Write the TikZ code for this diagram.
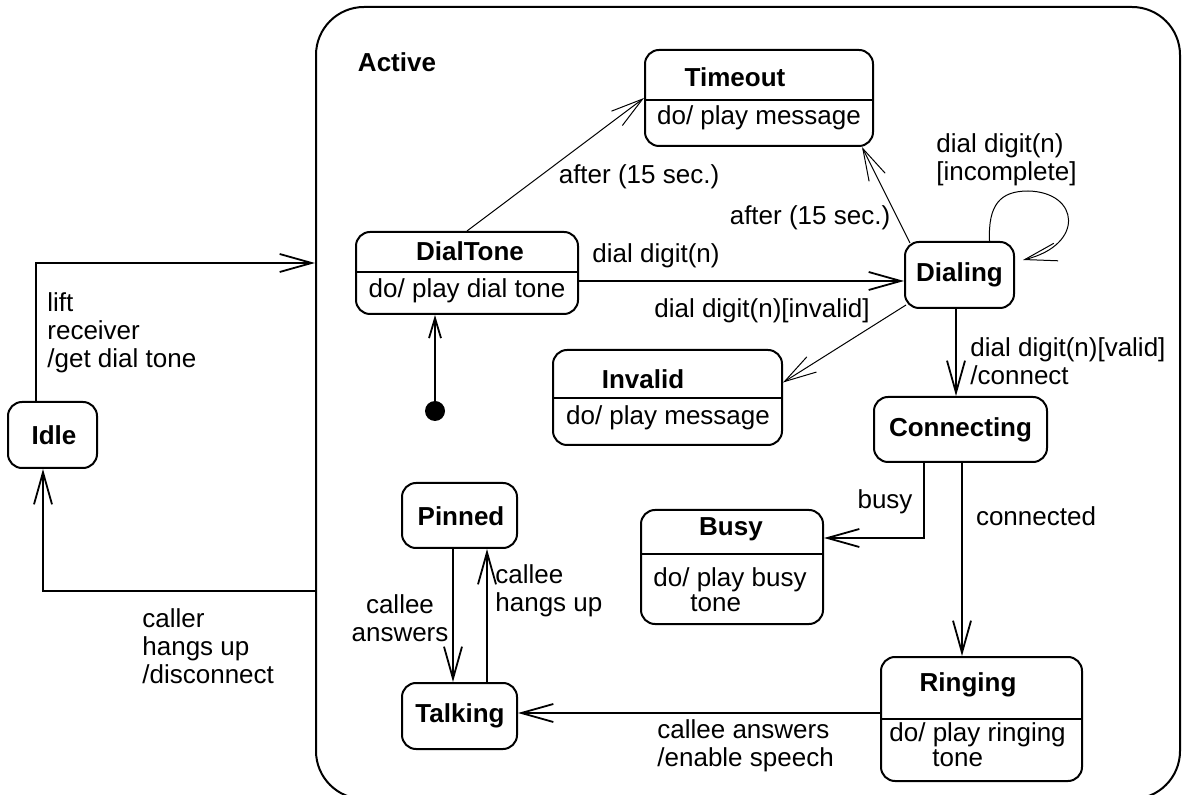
\documentclass[tikz,border=0pt]{standalone}
\usepackage{fontspec}
\setmainfont{Liberation Sans}
\usetikzlibrary{arrows.meta,calc}
\tikzset{tr/.style={line width=0.9pt, -{Straight Barb[length=16pt,width=9pt]}},
  thintr/.style={line width=0.5pt, -{Straight Barb[length=16pt,width=9pt]}},
  state/.style={draw, line width=1pt, rounded corners=7pt, inner sep=0pt},
  ttl/.style={font=\fontsize{13}{14}\selectfont\bfseries, inner sep=0pt},
  body/.style={align=left, inner sep=0pt, font=\fontsize{13}{12.5}\selectfont},
  lbl/.style={align=left, inner sep=0pt}}

\begin{document}
\begin{tikzpicture}[x=0.5pt, y=-0.5pt, font=\fontsize{13}{14}\selectfont]
  \useasboundingbox (0,0) rectangle (1182,795);
  \clip (0,0) rectangle (1182,795);
  % superstate
  \node[state, rounded corners=24pt, minimum width=432pt, minimum height=396pt] (active) at (748,403) {};
  \node[ttl] (activeT) at (397,62) {Active};
  \node[state, minimum width=44.5pt, minimum height=33pt] (idle) at (52.5,435) {};
  \node[ttl] (idleT) at (54,435) {Idle};
  % states with activity
  \node[state, minimum width=114pt, minimum height=48pt] (tmo) at (759,98) {};
  \draw[line width=1pt] (tmo.west |- 0,100) -- (tmo.east |- 0,100);
  \node[ttl] (tmoT) at (735,77) {Timeout};
  \node[body] (tmoB) at (759,118) {do/ play message};
  \node[state, minimum width=111pt, minimum height=41pt] (dt) at (467,273) {};
  \draw[line width=1pt] (dt.west |- 0,272) -- (dt.east |- 0,272);
  \node[ttl] (dtT) at (470,251) {DialTone};
  \node[body] (dtB) at (467,291) {do/ play dial tone};
  \node[state, minimum width=114.5pt, minimum height=47.5pt] (inv) at (667.5,397.5) {};
  \draw[line width=1pt] (inv.west |- 0,398) -- (inv.east |- 0,398);
  \node[ttl] (invT) at (643,379) {Invalid};
  \node[body] (invB) at (668,418) {do/ play message};
  \node[state, minimum width=91pt, minimum height=57pt] (busy) at (732,567) {};
  \draw[line width=1pt] (busy.west |- 0,554) -- (busy.east |- 0,554);
  \node[ttl] (busyT) at (731,529) {Busy};
  \node[body, anchor=west] (busyB) at (653,590) {do/ play busy\\\hspace*{18.5pt}tone};
  \node[state, minimum width=100.5pt, minimum height=62pt] (rg) at (981.5,719) {};
  \draw[line width=1pt] (rg.west |- 0,719) -- (rg.east |- 0,719);
  \node[ttl] (rgT) at (968,685) {Ringing};
  \node[body, anchor=west] (rgB) at (889,745) {do/ play ringing\\\hspace*{21.5pt}tone};
  % simple states
  \node[state, minimum width=54.5pt, minimum height=33pt] (dl) at (959.5,275) {};
  \node[ttl] (dlT) at (959.5,275) {Dialing};
  \node[state, minimum width=86.5pt, minimum height=32.5pt] (cn) at (960.5,429.5) {};
  \node[ttl] (cnT) at (960.5,430) {Connecting};
  \node[state, minimum width=57.5pt, minimum height=32.5pt] (pn) at (459.5,515.5) {};
  \node[ttl] (pnT) at (461,516) {Pinned};
  \node[state, minimum width=57.5pt, minimum height=33pt] (tk) at (459.5,716) {};
  \node[ttl] (tkT) at (460,716) {Talking};
  \node[circle, fill, inner sep=0pt, minimum size=10pt] (init) at (435,411) {};
  % transitions
  \draw[tr] ([xshift=-8.25pt]idle.north) |- (active.west |- 0,263);
  \draw[tr] (active.west |- 0,591) -| ([xshift=-4.75pt]idle.south);
  \draw[line width=0.9pt, -{Straight Barb[length=10pt,width=6pt]}] (init) -- (init |- dt.south);
  \draw[thintr] (dt.north) -- (tmo.west);
  \draw[tr] (dt.east |- 0,281) -- (dl.west |- 0,281);
  \draw[thintr] ([xshift=3pt,yshift=-1pt]dl.north west) -- ([xshift=-6pt]tmo.south east);
  \draw[thintr] ([xshift=1pt,yshift=2pt]dl.south west) -- ([yshift=7.5pt]inv.east);
  \draw[thintr] ([xshift=15pt]dl.north) .. controls (988,205) and (1000,191) .. (1028,191)
    .. controls (1080,192) and (1085,245) .. ([xshift=4pt,yshift=7.5pt]dl.east);
  \draw[tr] ([xshift=-1.75pt]dl.south) -- ([xshift=-1.75pt]dl.south |- cn.north);
  \draw[tr] ([xshift=-18.25pt]cn.south) |- ([yshift=14.5pt]busy.east);
  \draw[tr] ([xshift=0.75pt]cn.south) -- ([xshift=0.75pt]cn.south |- rg.north);
  \draw[tr] ([yshift=3pt]rg.west) -- ([yshift=3pt]rg.west -| tk.east);
  \draw[tr] ([xshift=-3.25pt]pn.south) -- ([xshift=-3.25pt]tk.north);
  \draw[tr] ([xshift=13.75pt]tk.north) -- ([xshift=13.75pt]pn.south);
  % labels
  \node[lbl, anchor=west] (lLift) at (47,333) {lift\\receiver\\/get dial tone};
  \node[lbl, anchor=west] (lHang) at (142,646) {caller\\hangs up\\/disconnect};
  \node[lbl] (lAft1) at (639,177) {after (15 sec.)};
  \node[lbl] (lAft2) at (810,218) {after (15 sec.)};
  \node[lbl] (lDig) at (656,256) {dial digit(n)};
  \node[lbl] (lInv) at (762,311) {dial digit(n)[invalid]};
  \node[lbl, anchor=west] (lInc) at (936,160) {dial digit(n)\\{}[incomplete]};
  \node[lbl, anchor=west] (lVal) at (970,361) {dial digit(n)[valid]\\/connect};
  \node[lbl] (lBusy) at (885,502) {busy};
  \node[lbl] (lConn) at (1036,516) {connected};
  \node[lbl, align=center] (lAns) at (400,618) {callee\\answers};
  \node[lbl, anchor=west] (lHup) at (495,591) {callee\\hangs up};
  \node[lbl, anchor=west] (lSpeech) at (657,746) {callee answers\\/enable speech};
\end{tikzpicture}
\end{document}
